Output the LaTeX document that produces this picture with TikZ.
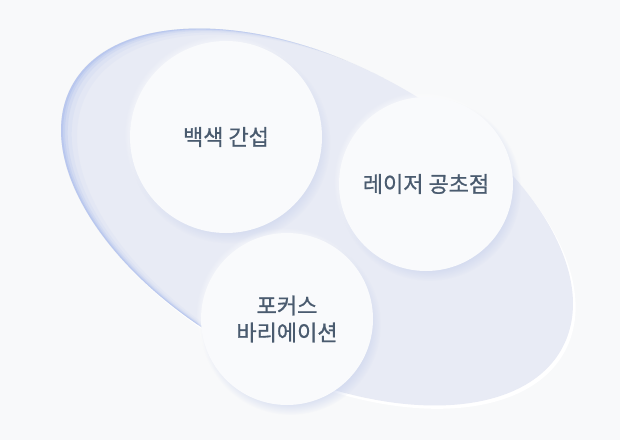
\documentclass[tikz,border=0pt]{standalone}
\usepackage{fontspec}
\usepackage{tikz}
\usepackage{xcolor}
\usetikzlibrary{shadows,fadings}
\newfontfamily\kr[FakeBold=0.8]{Noto Sans CJK KR}
\definecolor{paper}{HTML}{F8F9FA}
\definecolor{lilac}{HTML}{E8EBF5}
\definecolor{rimblue}{HTML}{9FB5EE}
\definecolor{bubblefill}{HTML}{F9FAFC}
\definecolor{bubbleshade}{HTML}{C6D0EC}
\definecolor{ink}{HTML}{4A5B6F}

\begin{document}
\begin{tikzpicture}[x=0.75pt,y=-0.75pt,
  lens/.style={rotate around={-28:(317,217)}},
  bubble/.style={circle,fill=bubblefill,text=ink,align=center,inner sep=0pt,
    font=\kr\fontsize{16.5}{20.25}\selectfont,
    circular drop shadow={fill=white,shadow xshift=-2pt,shadow yshift=2pt,shadow scale=1.03,opacity=.9},
    circular drop shadow={fill=bubbleshade,shadow xshift=2.5pt,shadow yshift=-4pt,shadow scale=1.05,opacity=.65}}]
\useasboundingbox (0,0) rectangle (620,440);
\fill[paper] (0,0) rectangle (620,440);
% lens body with soft rim
\fill[white,xshift=2pt,yshift=-2.5pt,lens] (317,217) ellipse [x radius=278, y radius=154];
\fill[lilac,lens] (317,217) ellipse [x radius=278, y radius=154];
\begin{scope}
\clip[lens] (317,217) ellipse [x radius=278, y radius=154];
\fill[rimblue,opacity=.32,even odd rule,xshift=1.5pt,yshift=-.5pt,lens] (-400,-400) rectangle (1100,900) (317,217) ellipse [x radius=278, y radius=154];
\fill[rimblue,opacity=.22,even odd rule,xshift=3pt,yshift=-1pt,lens] (-400,-400) rectangle (1100,900) (317,217) ellipse [x radius=278, y radius=154];
\fill[rimblue,opacity=.15,even odd rule,xshift=5pt,yshift=-1.8pt,lens] (-400,-400) rectangle (1100,900) (317,217) ellipse [x radius=278, y radius=154];
\fill[rimblue,opacity=.1,even odd rule,xshift=8pt,yshift=-3pt,lens] (-400,-400) rectangle (1100,900) (317,217) ellipse [x radius=278, y radius=154];
\fill[rimblue,opacity=.06,even odd rule,xshift=12pt,yshift=-4.5pt,lens] (-400,-400) rectangle (1100,900) (317,217) ellipse [x radius=278, y radius=154];
\end{scope}
% the three methods
\node[bubble,minimum size=144pt] (baek) at (226,137) {백색 간섭};
\node[bubble,minimum size=130.5pt] (laser) at (426,184) {레이저 공초점};
\node[bubble,minimum size=129pt] (focus) at (287,319) {포커스\\바리에이션};
\end{tikzpicture}
\end{document}
